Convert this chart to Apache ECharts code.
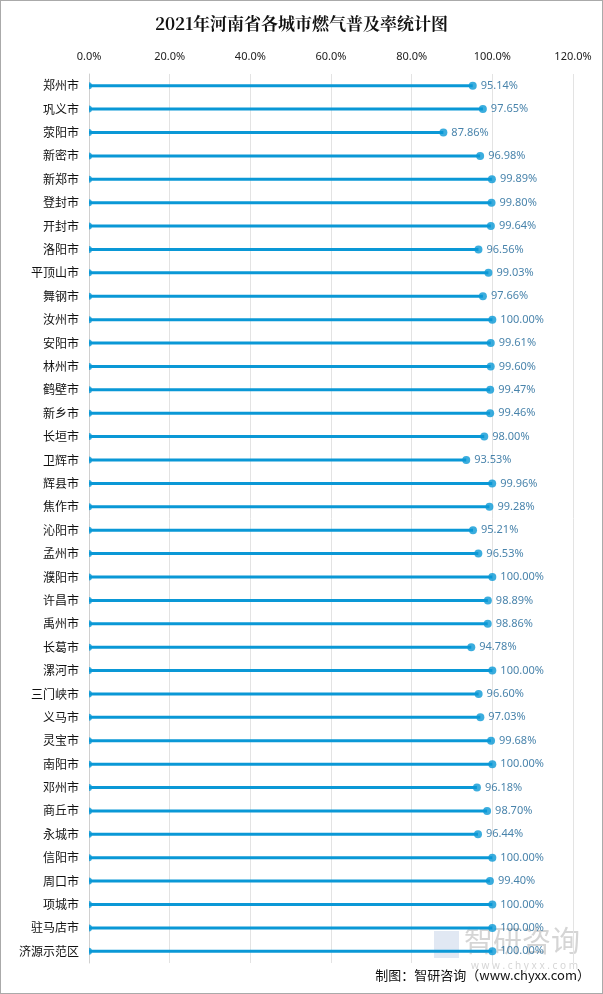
<!DOCTYPE html>
<html><head><meta charset="utf-8">
<script src="https://cdn.jsdelivr.net/npm/echarts@6/dist/echarts.min.js"></script>
<style>
html,body{margin:0;padding:0;background:#fff;}
#c{width:601px;height:992px;border:1px solid #aaa;}
</style></head>
<body><div id="c"></div>
<script>
const cities = ['郑州市','巩义市','荥阳市','新密市','新郑市','登封市','开封市','洛阳市','平顶山市','舞钢市','汝州市','安阳市','林州市','鹤壁市','新乡市','长垣市','卫辉市','辉县市','焦作市','沁阳市','孟州市','濮阳市','许昌市','禹州市','长葛市','漯河市','三门峡市','义马市','灵宝市','南阳市','邓州市','商丘市','永城市','信阳市','周口市','项城市','驻马店市','济源示范区'];
const rates = [95.14,97.65,87.86,96.98,99.89,99.80,99.64,96.56,99.03,97.66,100.00,99.61,99.60,99.47,99.46,98.00,93.53,99.96,99.28,95.21,96.53,100.00,98.89,98.86,94.78,100.00,96.60,97.03,99.68,100.00,96.18,98.70,96.44,100.00,99.40,100.00,100.00,100.00];
const axisMin = 0, axisMax = 120, axisStep = 20;

const chart = echarts.init(document.getElementById('c'));
const blue = '#0A98D6';
chart.setOption({
  animation:false,
  title:{text:'2021年河南省各城市燃气普及率统计图',left:'center',top:9,
    textStyle:{fontFamily:'Noto Serif CJK SC, Noto Sans CJK SC',fontSize:17,fontWeight:'bold',color:'#111'}},
  grid:{left:88,right:29,top:73,bottom:30,containLabel:false},
  xAxis:{type:'value',position:'top',min:axisMin,max:axisMax,interval:axisStep,
    axisLine:{show:false},axisTick:{show:false},
    axisLabel:{formatter:v=>v.toFixed(1)+'%',color:'#222',fontSize:11,fontFamily:'Noto Sans',margin:12},
    splitLine:{lineStyle:{color:'#e3e3e3'}}},
  yAxis:{type:'category',data:cities,inverse:true,
    axisLine:{show:true,lineStyle:{color:'#d0d0d0'}},axisTick:{show:false},
    axisLabel:{color:'#111',fontSize:12,fontFamily:'Noto Sans CJK SC',margin:10}},
  series:[
    {type:'bar',data:rates,barWidth:3,itemStyle:{color:blue},silent:true},
    {type:'scatter',data:rates.map((v,i)=>[0,i]),symbol:'path://M0,0 A5,5 0 0 1 0,10 Z',
      symbolSize:[3,7],symbolOffset:[1.5,0],itemStyle:{color:blue},silent:true},
    {type:'scatter',data:rates.map((v,i)=>[v,i]),symbolSize:8,itemStyle:{color:blue},
      label:{show:true,position:'right',distance:4,formatter:p=>p.value[0].toFixed(2)+'%',
        color:'#1A6496',fontSize:11,fontFamily:'Noto Sans'}}
  ],
  graphic:[
    {type:'text',left:463,top:925,style:{text:'智研咨询',fontSize:29,fill:'rgba(150,150,150,0.4)',fontFamily:'Noto Sans CJK SC'}},
    {type:'text',left:470,top:960,style:{text:'w w w . c h y x x . c o m',fontSize:10,fill:'rgba(150,150,150,0.4)',fontFamily:'Noto Sans'}},
    {type:'rect',left:433,top:930,shape:{width:25,height:27},style:{fill:'rgba(170,190,220,0.35)'}},
    {type:'text',right:12,top:968,style:{text:'制图：智研咨询（www.chyxx.com）',fontSize:13,fill:'#111',fontFamily:'Noto Sans CJK SC'}}
  ]
});
</script></body></html>
